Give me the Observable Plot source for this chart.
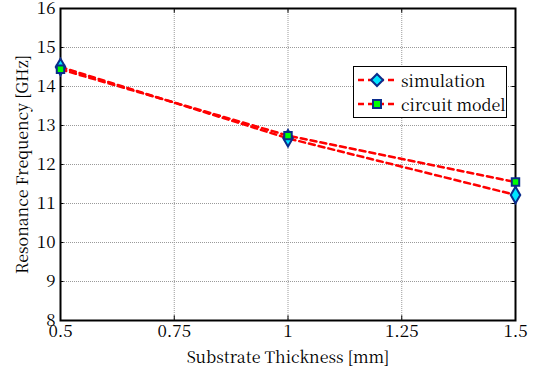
<!DOCTYPE html>
<html><head><meta charset="utf-8">
<script src="https://cdn.jsdelivr.net/npm/d3@7"></script>
<script src="https://cdn.jsdelivr.net/npm/@observablehq/plot@0.6"></script>
<style>
body{margin:0;background:#fff;}
#wrap{position:relative;width:535px;height:370px;font-family:'Noto Serif CJK SC','Liberation Serif',serif;}
#legend{position:absolute;left:353px;top:66px;width:152px;height:50px;border:1px solid #000;background:#fff;font-size:16px;}
.row{position:absolute;left:0;height:24px;display:flex;align-items:center;}
.row svg{margin-left:4px;}
.row span{margin-left:5px;font-family:'Noto Serif CJK SC','Liberation Serif',serif;font-size:16px;}
</style>
</head><body>
<div id="wrap"><div id="legend"></div></div>
<script>
const thickness = [0.5, 1, 1.5];
const simulation = [14.5, 12.67, 11.22];
const circuitModel = [14.44, 12.74, 11.55];
const xTicks = [0.5, 0.75, 1, 1.25, 1.5];
const yTicks = [8, 9, 10, 11, 12, 13, 14, 15, 16];
const seriesNames = ["simulation", "circuit model"];

const sim = thickness.map((t, i) => ({t, f: simulation[i], s: seriesNames[0]}));
const cir = thickness.map((t, i) => ({t, f: circuitModel[i], s: seriesNames[1]}));

const fam = "'Noto Serif CJK SC', 'Liberation Serif', serif";
const chart = Plot.plot({
  width: 535, height: 370,
  marginLeft: 60, marginRight: 20, marginTop: 8, marginBottom: 50,
  style: {fontFamily: fam, fontSize: "17px", background: "white", color: "black", overflow: "visible"},
  x: {domain: [0.5, 1.5]},
  y: {domain: [8, 16]},
  marks: [
    Plot.gridX(xTicks, {stroke: "#9a9a9a", strokeOpacity: 1, strokeDasharray: "1,1"}),
    Plot.gridY(yTicks, {stroke: "#9a9a9a", strokeOpacity: 1, strokeDasharray: "1,1"}),
    Plot.axisX(xTicks, {tickSize: 0, tickPadding: 4, fontSize: 17, tickFormat: d => String(d), label: "Substrate Thickness [mm]", labelAnchor: "center", labelArrow: "none", labelOffset: 42}),
    Plot.axisY(yTicks, {tickSize: 0, tickPadding: 5, fontSize: 17, label: "Resonance Frequency [GHz]", labelAnchor: "center", labelArrow: "none", labelOffset: 44}),
    Plot.ruleX(xTicks, {x: d => d, y1: 8, y2: 8.12, stroke: "black"}),
    Plot.ruleX(xTicks, {x: d => d, y1: 15.88, y2: 16, stroke: "black"}),
    Plot.ruleY(yTicks, {y: d => d, x1: 0.5, x2: 0.508, stroke: "black"}),
    Plot.ruleY(yTicks, {y: d => d, x1: 1.492, x2: 1.5, stroke: "black"}),
    Plot.frame({stroke: "black", strokeWidth: 2}),
    Plot.line(sim, {x: "t", y: "f", stroke: "#ff0000", strokeWidth: 2.5, strokeDasharray: "6,4"}),
    Plot.line(cir, {x: "t", y: "f", stroke: "#ff0000", strokeWidth: 2.5, strokeDasharray: "6,4"}),
    Plot.dot(sim, {x: "t", y: "f", symbol: "diamond", r: 5, fill: "#00e5ff", stroke: "#0a2c8c", strokeWidth: 2}),
    Plot.dot(cir, {x: "t", y: "f", symbol: "square", r: 4.2, fill: "#00ff00", stroke: "#0a2c8c", strokeWidth: 2})
  ]
});
chart.querySelectorAll("text").forEach(t => t.style.fontFamily = fam);
chart.querySelectorAll("[aria-label='x-axis label'] text, [aria-label='y-axis label'] text").forEach(t => { t.setAttribute("font-size", "16"); t.style.fontSize = "16px"; });
document.getElementById("wrap").prepend(chart);

const legend = document.getElementById("legend");
const syms = [
  `<polygon points="19,5 25,11 19,17 13,11" fill="#00e5ff" stroke="#0a2c8c" stroke-width="2"/>`,
  `<rect x="15" y="7" width="8" height="8" fill="#00ff00" stroke="#0a2c8c" stroke-width="2"/>`
];
seriesNames.forEach((n, i) => {
  const row = document.createElement("div");
  row.className = "row";
  row.style.top = (1 + i * 24) + "px";
  row.innerHTML = `<svg width="38" height="22"><line x1="0" y1="11" x2="38" y2="11" stroke="#ff0000" stroke-width="2.5" stroke-dasharray="6,4"/>${syms[i]}</svg><span>${n}</span>`;
  legend.appendChild(row);
});
</script>
</body></html>
